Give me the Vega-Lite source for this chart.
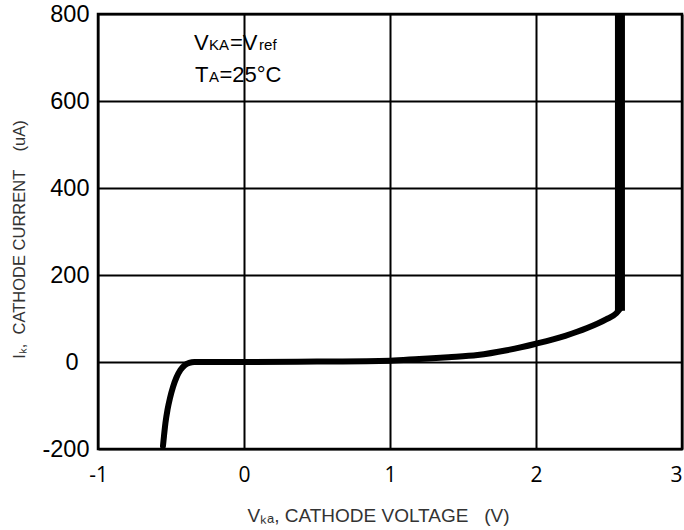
{
  "$schema": "https://vega.github.io/schema/vega-lite/v6.json",
  "width": 584,
  "height": 435,
  "autosize": {"type": "none"},
  "padding": {"left": 98, "top": 14, "right": 2, "bottom": 81},
  "background": "white",
  "config": {
    "view": {"stroke": "black", "strokeWidth": 2.5},
    "font": "Liberation Sans"
  },
  "datasets": {
    "curve": [
      {"v": -0.555, "i": -193}, {"v": -0.548, "i": -170}, {"v": -0.538, "i": -140},
      {"v": -0.524, "i": -110}, {"v": -0.507, "i": -83}, {"v": -0.486, "i": -57},
      {"v": -0.462, "i": -35}, {"v": -0.435, "i": -18}, {"v": -0.405, "i": -7},
      {"v": -0.375, "i": -2}, {"v": -0.34, "i": 0}, {"v": 0, "i": 0},
      {"v": 0.5, "i": 1}, {"v": 1.0, "i": 3}, {"v": 1.2, "i": 7}, {"v": 1.4, "i": 11},
      {"v": 1.6, "i": 16}, {"v": 1.8, "i": 27}, {"v": 2.0, "i": 42}, {"v": 2.2, "i": 60},
      {"v": 2.35, "i": 78}, {"v": 2.48, "i": 98}, {"v": 2.55, "i": 112}, {"v": 2.575, "i": 122}
    ],
    "vert": [{"v": 2.575, "i": 118}, {"v": 2.575, "i": 800}],
    "big": [
      {"v": -0.342, "i": 717, "t": "V"},
      {"v": -0.096, "i": 717, "t": "=V"},
      {"v": -0.336, "i": 644, "t": "T"},
      {"v": -0.168, "i": 644, "t": "=25°C"}
    ],
    "small": [
      {"v": -0.24, "i": 717, "t": "KA"},
      {"v": 0.103, "i": 717, "t": "ref"},
      {"v": -0.24, "i": 644, "t": "A"}
    ]
  },
  "encoding": {
    "x": {
      "field": "v", "type": "quantitative",
      "scale": {"domain": [-1, 3], "nice": false},
      "axis": {
        "values": [-1, 0, 1, 2, 3],
        "labelExpr": "replace(datum.label, '−', '-')",
        "title": "Vₖₐ, CATHODE VOLTAGE\u00a0\u00a0 (V)",
        "titleFont": "Liberation Sans", "titleFontSize": 19, "titleFontWeight": "normal",
        "titleColor": "#333", "titleX": 280, "titleY": 66, "titleBaseline": "middle",
        "labelFont": "Open Sans", "labelFontSize": 21, "labelColor": "black",
        "labelAlign": {"condition": {"test": "datum.value == 3", "value": "right"}, "value": "center"},
        "labelPadding": 15, "ticks": false, "domain": false,
        "grid": true, "gridColor": "black", "gridWidth": 2, "gridOpacity": 1,
        "labelFlush": false
      }
    },
    "y": {
      "field": "i", "type": "quantitative",
      "scale": {"domain": [-200, 800], "nice": false},
      "axis": {
        "values": [-200, 0, 200, 400, 600, 800],
        "labelExpr": "replace(datum.label, '−', '-')",
        "title": "Iₖ,\u00a0 CATHODE CURRENT\u00a0\u00a0\u00a0 (uA)",
        "titleFont": "Liberation Sans", "titleFontSize": 16.5, "titleFontWeight": "normal",
        "titleColor": "#333", "titleX": -79, "titleY": 225, "titleBaseline": "middle",
        "labelFont": "Liberation Sans", "labelFontSize": 23.5, "labelColor": "black",
        "labelPadding": {"condition": {"test": "datum.value == 0", "value": 20}, "value": 9},
        "ticks": false, "domain": false,
        "grid": true, "gridColor": "black", "gridWidth": 2, "gridOpacity": 1,
        "labelFlush": false
      }
    }
  },
  "layer": [
    {"data": {"name": "curve"}, "mark": {"type": "line", "color": "black", "strokeWidth": 6, "interpolate": "monotone", "strokeCap": "round", "strokeJoin": "round"}},
    {"data": {"name": "vert"}, "mark": {"type": "line", "color": "black", "strokeWidth": 10}},
    {"data": {"name": "big"}, "mark": {"type": "text", "align": "left", "baseline": "alphabetic", "fontSize": 22, "font": "Liberation Sans", "color": "black"}, "encoding": {"text": {"field": "t"}}},
    {"data": {"name": "small"}, "mark": {"type": "text", "align": "left", "baseline": "alphabetic", "fontSize": 15, "font": "Liberation Sans", "color": "black"}, "encoding": {"text": {"field": "t"}}}
  ]
}
